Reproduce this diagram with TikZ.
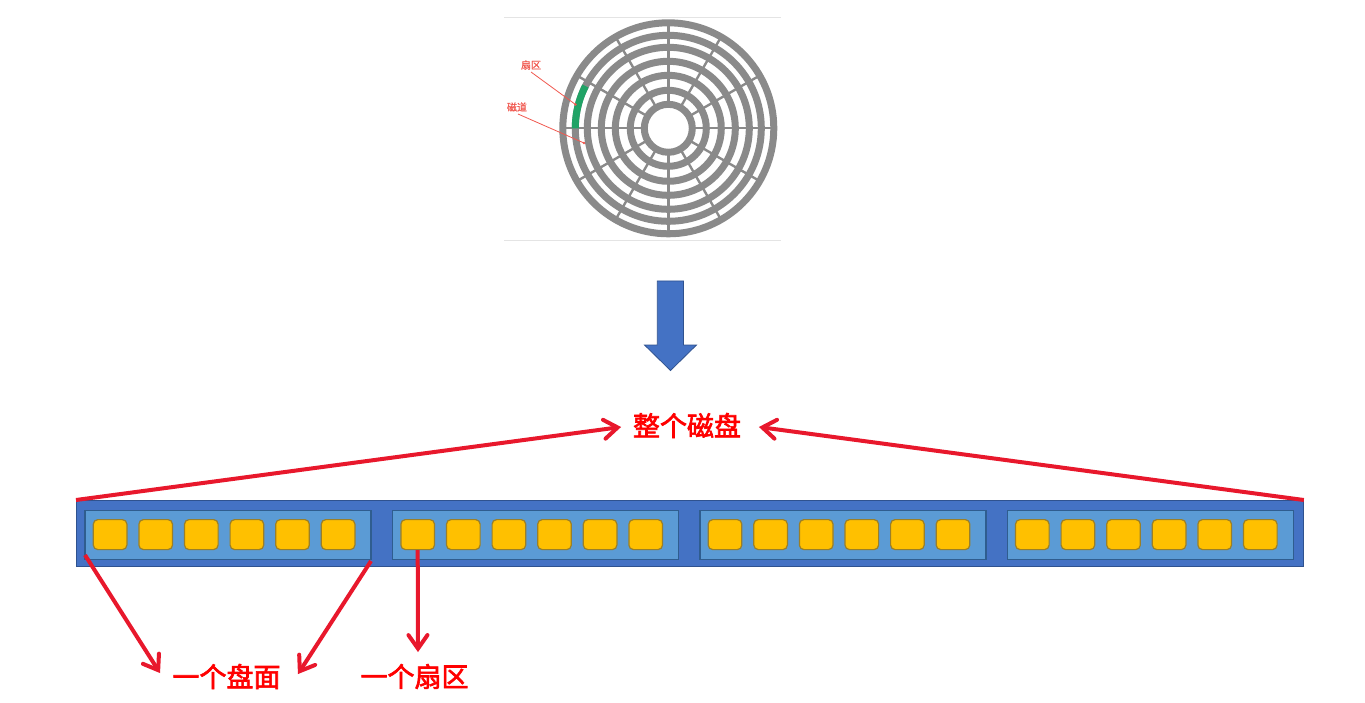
\documentclass[tikz,border=0pt]{standalone}
\usepackage{fontspec}
\newfontfamily\cjk[FakeBold=2.4]{Noto Sans CJK SC}
\newfontfamily\cjksmall[FakeBold=0.8]{Noto Sans CJK SC}
\usetikzlibrary{arrows.meta,calc}
\definecolor{stripblue}{HTML}{4472C4}
\definecolor{stripedge}{HTML}{2F528F}
\definecolor{panelblue}{HTML}{5B9BD5}
\definecolor{paneledge}{HTML}{2F5D8F}
\definecolor{cellgold}{HTML}{FFC000}
\definecolor{celledge}{HTML}{9A7F28}
\definecolor{ringgrey}{HTML}{8A8A8A}
\definecolor{sectorgreen}{HTML}{21A366}
\definecolor{arrowred}{HTML}{E8182C}
\definecolor{thinred}{HTML}{F0584F}
\definecolor{ruleg}{HTML}{E4E4E4}
\pgfdeclarearrow{
  name=OpenHead,
  setup code={
    \pgfarrowssettipend{3.4pt}
    \pgfarrowssetlineend{-1pt}
    \pgfarrowssetvisualbackend{-15pt}
    \pgfarrowsupperhullpoint{-15pt}{11pt}
    \pgfarrowsupperhullpoint{3.4pt}{0pt}
  },
  drawing code={
    \pgfsetlinewidth{4pt}
    \pgfsetmiterjoin
    \pgfsetroundcap
    \pgfpathmoveto{\pgfqpoint{-13.5pt}{9.5pt}}
    \pgfpathlineto{\pgfqpoint{0pt}{0pt}}
    \pgfpathlineto{\pgfqpoint{-13.5pt}{-9.5pt}}
    \pgfusepathqstroke
  },
  defaults={}
}
\tikzset{
  x=1pt,y=-1pt,
  ringline/.style={draw=ringgrey,line width=7pt},
  spokeline/.style={draw=ringgrey,line width=2.4pt},
  striprect/.style={draw=stripedge,fill=stripblue,line width=0.8pt,minimum width=1227pt,minimum height=66pt,inner sep=0pt,anchor=north west},
  panelrect/.style={draw=paneledge,fill=panelblue,line width=1.2pt,minimum width=286pt,minimum height=49pt,inner sep=0pt,anchor=north west},
  cellrect/.style={draw=celledge,fill=cellgold,line width=1.2pt,rounded corners=4.5pt,minimum width=33.6pt,minimum height=30pt,inner sep=0pt,anchor=north west},
  biglabel/.style={text=red,font=\cjk\fontsize{27}{27}\selectfont,inner sep=0pt},
  smalllabel/.style={text=thinred,font=\cjksmall\fontsize{10}{10}\selectfont,inner sep=0pt},
  redarrow/.style={draw=arrowred,line width=4pt,-{OpenHead}},
  thinarrow/.style={draw=thinred,line width=0.8pt},
}
\begin{document}
\begin{tikzpicture}
\useasboundingbox (0,0) rectangle (1365,703);
% rules of the disk picture
\draw[ruleg,line width=1pt] (504,17.5) -- (781,17.5);
\draw[ruleg,line width=1pt] (504,240.5) -- (781,240.5);
% disk
\coordinate (disk) at (668.3,128.3);
\foreach \a in {0,30,...,330}
  \draw[spokeline] ($(disk)+(\a:24)$) -- ($(disk)+(\a:105)$);
\foreach \r in {105.5,93,81,67,53,38,24}
  \draw[ringline] (disk) circle[radius=\r];
\draw[draw=sectorgreen,line width=7pt] plot[domain=180:153,samples=24,smooth] ({668.3+93*cos(\x)},{128.3-93*sin(\x)});
% disk labels
\node[smalllabel] (sector) at (531,65) {扇区};
\node[smalllabel] (track) at (517,107) {磁道};
\coordinate (sectorpt) at (575.5,104.5);
\coordinate (trackpt) at (584,143);
\draw[thinarrow] (531,72) -- (sectorpt);
\draw[thinarrow] (518,114) -- (trackpt);
\fill[thinred] (sectorpt) circle[radius=1.4];
\fill[thinred] (trackpt) circle[radius=1.4];
% block arrow
\draw[stripedge,fill=stripblue,line width=0.8pt,line join=miter]
  (657.3,281) -- (683.5,281) -- (683.5,345) -- (696.5,345) -- (670.5,370.5) -- (644.5,345) -- (657.3,345) -- cycle;
% strip
\node[striprect] (strip) at (76,500) {};
\foreach \i/\px in {1/84.4,2/392,3/699.3,4/1006.6} {
  \node[panelrect] (panel\i) at (\px,510) {};
  \foreach \j in {0,...,5}
    \node[cellrect] (cell\i\j) at (\px+8.3+45.6*\j,519) {};
}
% labels
\node[biglabel] (whole) at (687,425.5) {整个磁盘};
\node[biglabel] (platter) at (226.5,676.5) {一个盘面};
\node[biglabel] (onesector) at (414.5,676.5) {一个扇区};
% connectors
\coordinate (wl) at (621,427);
\coordinate (wr) at (759,427);
\coordinate (pl) at (160,673);
\coordinate (pr) at (298,674);
\coordinate (sd) at (418,652);
\draw[redarrow] (strip.north west) -- (wl);
\draw[redarrow] (strip.north east) -- (wr);
\draw[redarrow] (85,555) -- (pl);
\draw[redarrow] (371,561) -- (pr);
\draw[redarrow] (cell20.south) -- (sd);
\end{tikzpicture}
\end{document}
